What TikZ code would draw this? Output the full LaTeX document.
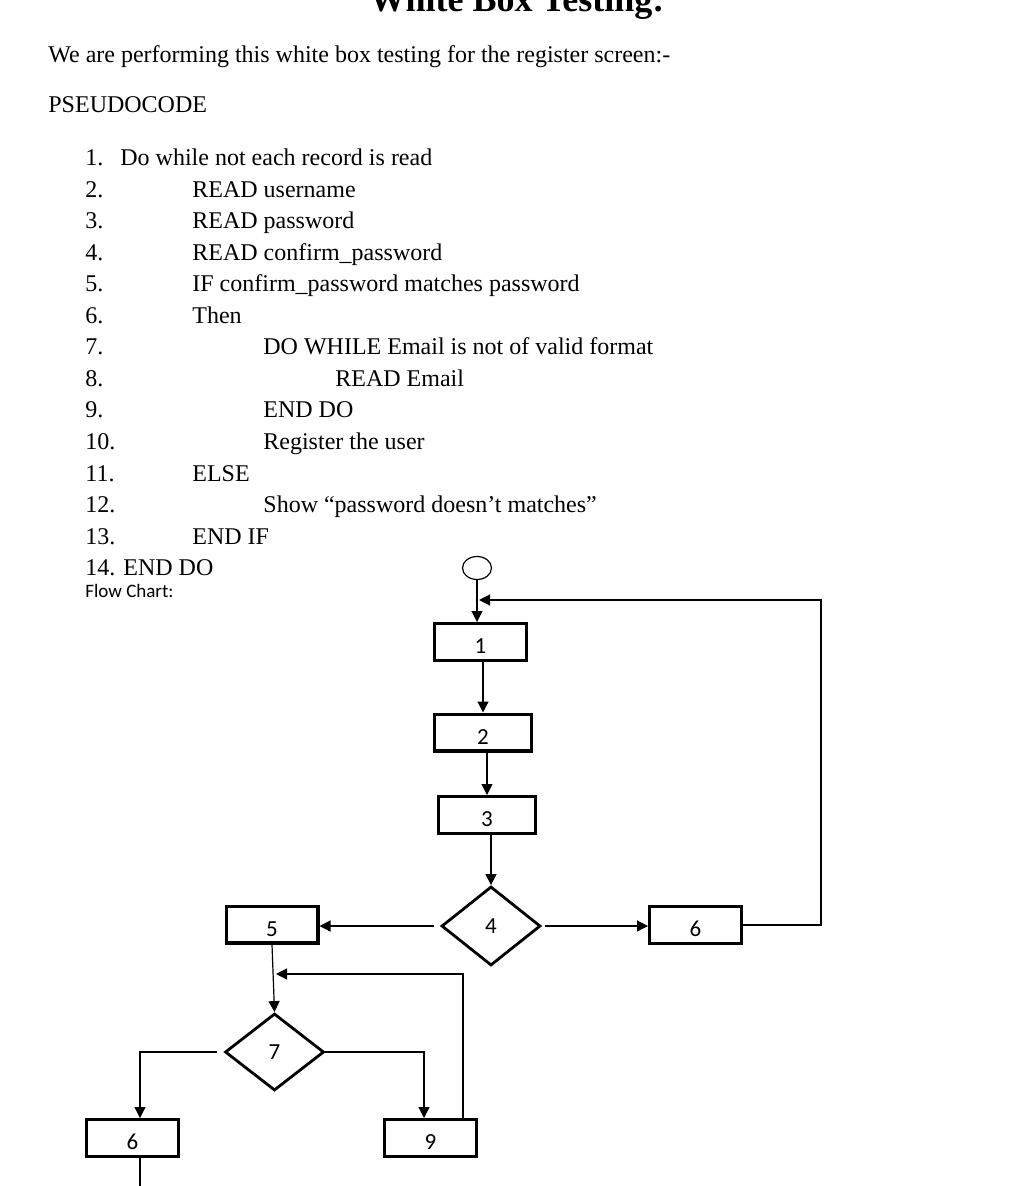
\documentclass[tikz,border=0pt]{standalone}
\usepackage{fontspec}
\setmainfont{Liberation Serif}
\newfontfamily\chartfont{Carlito}
\usetikzlibrary{shapes.geometric,arrows.meta,calc}
\tikzset{
  >={Triangle[length=5.5pt,width=5.5pt]},
  pline/.style={anchor=base west, inner sep=0pt, font=\fontsize{12}{14}\selectfont},
  stepbox/.style={draw, rectangle, line width=1.7pt, minimum width=45.8pt,
    minimum height=18.3pt, inner sep=0pt, text height=11.5pt, text depth=0pt,
    font=\chartfont\fontsize{11.5}{13}\selectfont},
  decision/.style={draw, diamond, line width=1.4pt, minimum width=49.5pt,
    minimum height=39.5pt, inner sep=0pt, font=\chartfont\fontsize{11.5}{13}\selectfont},
  terminal/.style={draw, ellipse, line width=0.6pt, minimum width=14.5pt,
    minimum height=11.5pt, inner sep=0pt},
  flow/.style={->, line width=0.6pt},
}

\begin{document}
\begin{tikzpicture}[x=0.5pt,y=-0.5pt]
\useasboundingbox (0,0) rectangle (1018,1186);

% heading and pseudocode
\node[anchor=base, inner sep=0pt, font=\bfseries\fontsize{18}{20}\selectfont] (title) at (517,12) {White Box Testing:};
\node[pline] (intro) at (48,63) {We are performing this white box testing for the register screen:-};
\node[pline] (pseudo) at (48,113) {PSEUDOCODE};

\node[pline] (n1) at (85,166) {1.};
\node[pline] (l1) at (120,166) {Do while not each record is read};
\node[pline] (n2) at (85,197.5) {2.};
\node[pline] (l2) at (192,197.5) {READ username};
\node[pline] (n3) at (85,229) {3.};
\node[pline] (l3) at (192,229) {READ password};
\node[pline] (n4) at (85,260.5) {4.};
\node[pline] (l4) at (192,260.5) {READ confirm\_password};
\node[pline] (n5) at (85,292) {5.};
\node[pline] (l5) at (192,292) {IF confirm\_password matches password};
\node[pline] (n6) at (85,323.5) {6.};
\node[pline] (l6) at (192,323.5) {Then};
\node[pline] (n7) at (85,355) {7.};
\node[pline] (l7) at (263,355) {DO WHILE Email is not of valid format};
\node[pline] (n8) at (85,386.5) {8.};
\node[pline] (l8) at (335,386.5) {READ Email};
\node[pline] (n9) at (85,418) {9.};
\node[pline] (l9) at (263,418) {END DO};
\node[pline] (n10) at (85,449.5) {10.};
\node[pline] (l10) at (263,449.5) {Register the user};
\node[pline] (n11) at (85,481) {11.};
\node[pline] (l11) at (192,481) {ELSE};
\node[pline] (n12) at (85,512.5) {12.};
\node[pline] (l12) at (263,512.5) {Show “password doesn’t matches”};
\node[pline] (n13) at (85,544) {13.};
\node[pline] (l13) at (192,544) {END IF};
\node[pline] (n14) at (85,575.5) {14. END DO};

\node[anchor=base west, inner sep=0pt, font=\chartfont\fontsize{9.5}{11}\selectfont] (fc) at (85,597) {Flow Chart:};

% flow chart
\node[terminal] (start) at (477,568) {};
\node[stepbox] (b1) at (480.5,642) {1};
\node[stepbox, minimum width=48.3pt] (b2) at (483,732.5) {2};
\node[stepbox, minimum width=48.3pt] (b3) at (487,815) {3};
\node[decision] (d4) at (491,926) {4};
\node[stepbox] (b6r) at (695.5,925) {6};
\node[stepbox] (b5) at (272,924.5) {5};
\node[decision, minimum height=38.5pt] (d7) at (274.5,1052) {7};
\node[stepbox] (b6b) at (132.5,1138) {6};
\node[stepbox] (b9) at (430.5,1138) {9};

\coordinate (topR) at (821,600);
\coordinate (topJ) at (479,600);
\coordinate (loopT) at (463,974);
\coordinate (midJ) at (276,974);
\coordinate (exit) at (140,1195);

\draw[flow] (start) -- (start |- b1.north);
\draw[flow] (b6r.east) -| (topR) -- (topJ);
\draw[flow] (b2.north |- b1.south) -- (b2.north);
\draw[flow] (b3.north |- b2.south) -- (b3.north);
\draw[flow] (d4.north |- b3.south) -- (d4.north);
\draw[flow, shorten <=1.5pt] (d4.east) -- (d4.east -| b6r.west);
\draw[flow, shorten <=3pt] (d4.west) -- (d4.west -| b5.east);
\draw[flow] (b5.south) -- (d7.north);
\draw[flow] (b9.north -| loopT) -- (loopT) -- (midJ);
\draw[flow, shorten <=3.5pt] (d7.west) -| ([xshift=3.75pt]b6b.north);
\draw[flow] (d7.east) -| ([xshift=-3.25pt]b9.north);
\draw[line width=0.6pt] ([xshift=3.75pt]b6b.south) -- (exit);
\end{tikzpicture}
\end{document}
